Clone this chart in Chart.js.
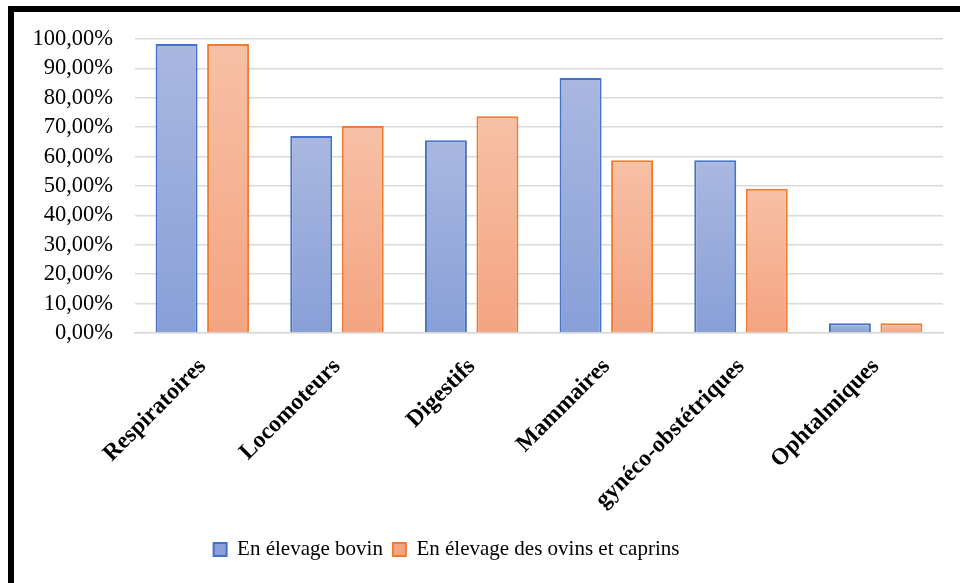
<!doctype html>
<html lang="fr">
  <head>
    <meta charset="utf-8">
    <title>Affections par appareil</title>
    <script src="https://cdn.jsdelivr.net/npm/chart.js@4.4.1/dist/chart.umd.min.js"></script>
    <style>
      html, body { margin: 0; padding: 0; background: #fff; }
      .frame {
        position: absolute;
        left: 8px;
        top: 6px;
        width: 946px;
        height: 571px;
        border-top: 6px solid #000;
        border-left: 6px solid #000;
      }
    </style>
  </head>
  <body>
    <div class="frame">
      <canvas id="chart"></canvas>
    </div>

    <script>
      const categories = ['Respiratoires', 'Locomoteurs', 'Digestifs', 'Mammaires', 'gynéco-obstétriques', 'Ophtalmiques'];
      const bovin = [98.3, 67.0, 65.6, 86.7, 58.8, 3.3];
      const ovinsCaprins = [98.3, 70.4, 73.7, 58.8, 49.1, 3.3];
      const seriesNames = ['En élevage bovin', 'En élevage des ovins et caprins'];

      // gradient per bar, light on top, darker at the base (like Excel)
      function barGradient(top, bottom) {
        return function (ctx) {
          const chart = ctx.chart;
          const y = chart.scales && chart.scales.y;
          if (!chart.chartArea || !y || ctx.raw === undefined) return bottom;
          const y0 = y.getPixelForValue(0);
          const y1 = y.getPixelForValue(ctx.raw);
          if (!isFinite(y0) || !isFinite(y1) || y0 === y1) return bottom;
          const g = chart.ctx.createLinearGradient(0, y1, 0, y0);
          g.addColorStop(0, top);
          g.addColorStop(1, bottom);
          return g;
        };
      }

      // legend sits a bit left of centre in the original
      const legendShift = {
        id: 'legendShift',
        afterLayout(chart) {
          chart.legend.left -= 32;
          chart.legend.right -= 32;
        }
      };

      const data = {
        labels: categories,
        datasets: [{
          label: seriesNames[0],
          data: bovin,
          backgroundColor: barGradient('#aab8e0', '#889fd7'),
          borderColor: '#4472c4',
          borderWidth: 2
        }, {
          label: seriesNames[1],
          data: ovinsCaprins,
          backgroundColor: barGradient('#f7c0a6', '#f4a481'),
          borderColor: '#ed7d31',
          borderWidth: 2
        }]
      };

      const config = {
        type: 'bar',
        data: data,
        plugins: [legendShift],
        options: {
          responsive: true,
          maintainAspectRatio: false,
          animation: false,
          categoryPercentage: 0.765,
          barPercentage: 0.815,
          layout: {
            padding: { top: 27, left: 0, right: 17, bottom: 13 }
          },
          scales: {
            x: {
              grid: { display: false },
              border: { color: '#d9d9d9', width: 1.5 },
              ticks: {
                color: '#000',
                minRotation: 45,
                maxRotation: 45,
                autoSkip: false,
                padding: 12,
                font: { family: 'Liberation Serif', size: 23.5, weight: 'bold' }
              },
              afterFit: function (scale) {
                scale.height = 196;
                scale.paddingLeft = 0;
                scale.paddingRight = 0;
              }
            },
            y: {
              min: 0,
              max: 100,
              border: { display: false },
              grid: { color: '#d9d9d9', lineWidth: 1.5, drawTicks: false },
              ticks: {
                stepSize: 10,
                autoSkip: false,
                color: '#000',
                padding: 22,
                font: { family: 'Liberation Serif', size: 22.5 },
                callback: function (v) { return v.toFixed(2).replace('.', ',') + '%'; }
              },
              afterFit: function (scale) {
                scale.width = 121;
                scale.paddingTop = 0;
                scale.paddingBottom = 0;
              }
            }
          },
          plugins: {
            tooltip: { enabled: false },
            legend: {
              position: 'bottom',
              labels: {
                color: '#000',
                boxWidth: 13,
                boxHeight: 13,
                padding: 10,
                font: { family: 'Liberation Serif', size: 21 }
              }
            }
          }
        }
      };

      const myChart = new Chart(document.getElementById('chart'), config);
    </script>
  </body>
</html>
